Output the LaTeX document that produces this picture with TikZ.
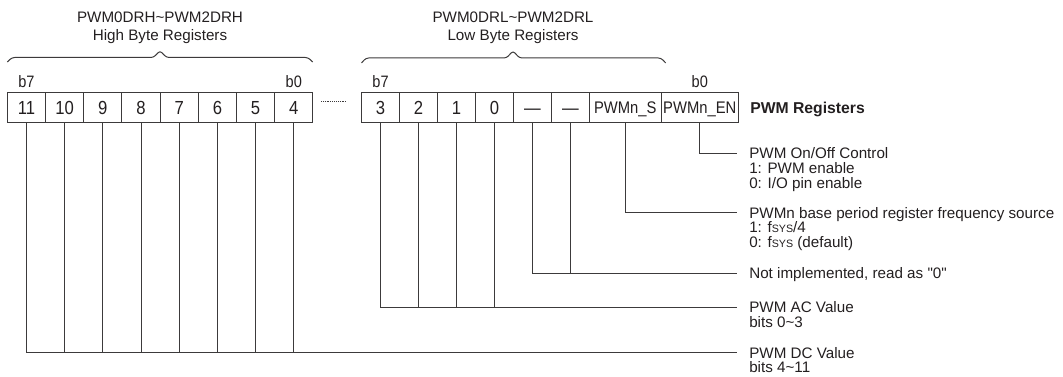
\documentclass[tikz,border=0pt]{standalone}
\usepackage{fontspec}
\setmainfont{Liberation Sans}
\newfontfamily\condf{Liberation Sans}[FakeStretch=0.88]
\newfontfamily\plainf{Liberation Sans}
\newcommand\fsysx{f{\fontsize{8}{8}\selectfont SYS}}
\newcommand\sq{{\plainf"}}
\definecolor{ln}{HTML}{3C3A3B}
\definecolor{tx}{HTML}{231F20}
\begin{document}
\begin{tikzpicture}[x=0.75pt,y=-0.75pt,
  every node/.style={text=tx,font=\fontsize{11.4}{10.7}\selectfont},
  txt/.style={inner xsep=0pt,inner ysep=0pt,text height=8.2pt,text depth=0pt},
  desc/.style={txt,anchor=west,inner xsep=9pt},
  cell/.style={draw=ln,line width=0.75pt,minimum height=22.5pt,inner sep=0pt,
    font=\condf\fontsize{14.2}{14}\selectfont,text height=10.1pt,text depth=0pt},
  wcell/.style={cell,font=\condf\fontsize{12.6}{12.6}\selectfont,text height=9pt},
  bit/.style={txt,font=\condf\fontsize{12.4}{12}\selectfont,text height=8.8pt},
  conn/.style={draw=ln,line width=0.75pt},
  brace/.style={draw=ln,line width=0.75pt,rounded corners=2pt}]
\useasboundingbox (0,0) rectangle (1063,377);
% headers
\node[txt] (hh1) at (160,17.2) {PWM0DRH\char`~PWM2DRH};
\node[txt] (hh2) at (160,35) {High Byte Registers};
\node[txt] (lh1) at (513,17.2) {PWM0DRL\char`~PWM2DRL};
\node[txt] (lh2) at (513,35) {Low Byte Registers};
% braces
\draw[brace] (7.3,62) -- (12,57.5) -- (153.5,57.5) -- (160,50.7) -- (166.5,57.5) -- (308,57.5) -- (312.7,62);
\draw[brace] (361.5,63) -- (366,58) -- (506.5,58) -- (513,50.9) -- (519.5,58) -- (661,58) -- (665.7,63);
% high cells
\foreach \v [count=\i from 0] in {11,10,9,8,7,6,5,4}
  \node[cell,minimum width=28.65pt] (h\v) at (26.4+38.2*\i,108) {\v};
% low cells
\foreach \v/\n [count=\i from 0] in {3/l3,2/l2,1/l1,0/l0,—/nA,—/nB}
  \node[cell,minimum width=28.5pt] (\n) at (380.5+38*\i,108) {\v};
\node[wcell,minimum width=53.625pt] (ps) at (625.25,108) {PWMn\_S};
\node[wcell,minimum width=58.125pt] (pe) at (699.75,108) {PWMn\_EN};
% bit labels
\node[bit] (b7h) at (h11 |- 0,82) {b7};
\node[bit] (b0h) at (h4 |- 0,82) {b0};
\node[bit] (b7l) at (l3 |- 0,82) {b7};
\node[bit] (b0l) at (pe |- 0,82) {b0};
% dotted separator
\coordinate (d1) at (321,101);
\coordinate (d2) at (347,101);
\draw[ln,line width=0.5pt,dash pattern=on 0.6pt off 0.8pt] (d1) -- (d2);
% title
\node[txt,anchor=west,font=\bfseries\fontsize{11.8}{10.7}\selectfont] (title) at (750,108) {PWM Registers};
% descriptions
\node[desc] (en1) at (737,153.5) {PWM On/Off Control};
\node[desc] (en2) at (737,168.2) {1: PWM enable};
\node[desc] (en3) at (737,182.9) {0: I/O pin enable};
\node[desc] (s1) at (737,213) {PWMn base period register frequency source};
\node[desc] (s2) at (737,227.5) {1: \fsysx/4};
\node[desc] (s3) at (737,242) {0: \fsysx{} (default)};
\node[desc] (ni) at (737,273.5) {Not implemented, read as \sq0\sq};
\node[desc] (ac1) at (737,307.5) {PWM AC Value};
\node[desc] (ac2) at (737,321.8) {bits 0\char`~3};
\node[desc] (dc1) at (737,353) {PWM DC Value};
\node[desc] (dc2) at (737,367.3) {bits 4\char`~11};
% connectors
\draw[conn] (pe.south) |- (en1.west);
\draw[conn] (ps.south) |- (s1.west);
\draw[conn] (nA.south) |- (ni.west);
\draw[conn] (nB.south) -- (nB.south |- ni.west);
\draw[conn] (l3.south) |- (ac1.west);
\foreach \n in {l2,l1,l0}
  \draw[conn] (\n.south) -- (\n.south |- ac1.west);
\draw[conn] (h11.south) |- (dc1.west);
\foreach \n in {10,9,8,7,6,5,4}
  \draw[conn] (h\n.south) -- (h\n.south |- dc1.west);
\end{tikzpicture}
\end{document}
